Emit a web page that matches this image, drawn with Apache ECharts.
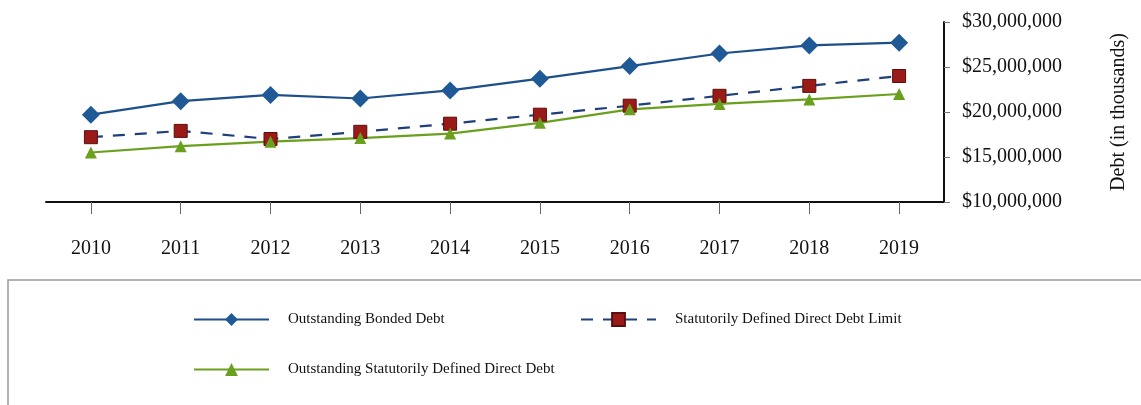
<!DOCTYPE html>
<html><head><meta charset="utf-8">
<script src="https://cdn.jsdelivr.net/npm/echarts@6/dist/echarts.min.js"></script>
<style>html,body{margin:0;padding:0;background:#fff}#c{width:1141px;height:405px}</style>
</head><body><div id="c"></div>
<script>
const years = ['2010','2011','2012','2013','2014','2015','2016','2017','2018','2019'];
const bondedDebt = [19700000,21200000,21900000,21500000,22400000,23700000,25100000,26500000,27400000,27700000];
const debtLimit = [17200000,17900000,17000000,17800000,18700000,19700000,20700000,21800000,22900000,24000000];
const directDebt = [15500000,16200000,16700000,17100000,17600000,18800000,20300000,20900000,21400000,22000000];
const seriesNames = ['Outstanding Bonded Debt','Statutorily Defined Direct Debt Limit','Outstanding Statutorily Defined Direct Debt'];

const font = 'Liberation Serif';
const fmt = v => '$' + v.toLocaleString('en-US');
const chart = echarts.init(document.getElementById('c'));
const legendBase = {itemWidth:75,itemHeight:16,padding:0,
  textStyle:{fontFamily:font,fontSize:15,color:'#111',padding:[0,0,0,14]}};
chart.setOption({
  animation:false,
  textStyle:{fontFamily:font},
  grid:{left:46,right:197,top:22,bottom:203},
  graphic:[{type:'rect',shape:{x:8,y:280,width:1140,height:140},style:{fill:'none',stroke:'#999',lineWidth:1.5}}],
  legend:[
    Object.assign({data:[seriesNames[0]],left:193,top:312},legendBase),
    Object.assign({data:[seriesNames[1]],left:580,top:312},legendBase),
    Object.assign({data:[seriesNames[2]],left:193,top:362},legendBase)
  ],
  xAxis:{type:'category',data:years,boundaryGap:true,
    axisLine:{lineStyle:{color:'#111',width:2}},
    axisTick:{show:true,alignWithLabel:true,length:12,lineStyle:{color:'#666',width:1}},
    axisLabel:{margin:37,fontFamily:font,fontSize:20,color:'#111'}},
  yAxis:{type:'value',position:'right',min:10000000,max:30000000,interval:5000000,
    name:'Debt (in thousands)',nameLocation:'middle',nameRotate:90,nameGap:165,
    nameTextStyle:{fontFamily:font,fontSize:20,color:'#111'},
    axisLine:{show:true,lineStyle:{color:'#111',width:2}},
    axisTick:{show:true,length:6,lineStyle:{color:'#777'}},
    splitLine:{show:false},
    axisLabel:{margin:18,fontFamily:font,fontSize:20,color:'#111',formatter:fmt}},
  series:[
    {name:seriesNames[0],type:'line',data:bondedDebt,symbol:'diamond',symbolSize:18,
      lineStyle:{color:'#1d4f8a',width:2.2},itemStyle:{color:'#1f5a96'}},
    {name:seriesNames[1],type:'line',data:debtLimit,symbol:'rect',symbolSize:13,
      lineStyle:{color:'#1e3f7a',width:2.2,type:[12,10]},itemStyle:{color:'#9a1a18',borderColor:'#5a0e0e',borderWidth:1}},
    {name:seriesNames[2],type:'line',data:directDebt,symbol:'triangle',symbolSize:12,
      lineStyle:{color:'#6aa01e',width:2.2},itemStyle:{color:'#6aa01e'}}
  ]
});
</script></body></html>
